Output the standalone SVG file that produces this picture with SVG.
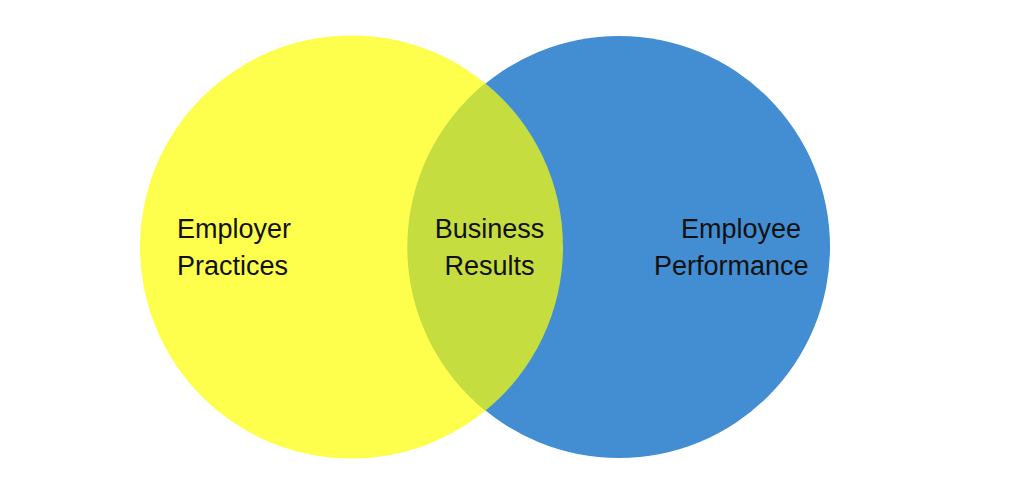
<svg xmlns="http://www.w3.org/2000/svg" width="1024" height="495" viewBox="0 0 1024 495">
  <style>
    .lbl { font-family: "Liberation Sans", Arial, sans-serif; font-size: 27px; fill: #111111; }
  </style>
  <rect width="1024" height="495" fill="#ffffff"/>
  <g id="employer">
    <circle cx="351.5" cy="247" r="211.5" fill="#fefe4c"/>
  </g>
  <g id="employee">
    <circle cx="619" cy="247" r="211" fill="#438dd2"/>
  </g>
  <g id="business">
    <path d="M 485.3 83.2 A 211.5 211.5 0 0 1 485.3 410.8 A 211 211 0 0 1 485.3 83.2 Z" fill="#c6dd3f"/>
  </g>
  <g id="labels">
    <text class="lbl" x="177" y="237.5">Employer</text>
    <text class="lbl" x="177" y="275">Practices</text>
    <text class="lbl" x="489.5" y="237.5" text-anchor="middle">Business</text>
    <text class="lbl" x="489.5" y="275" text-anchor="middle">Results</text>
    <text class="lbl" x="681" y="237.5">Employee</text>
    <text class="lbl" x="654" y="275">Performance</text>
  </g>
</svg>
